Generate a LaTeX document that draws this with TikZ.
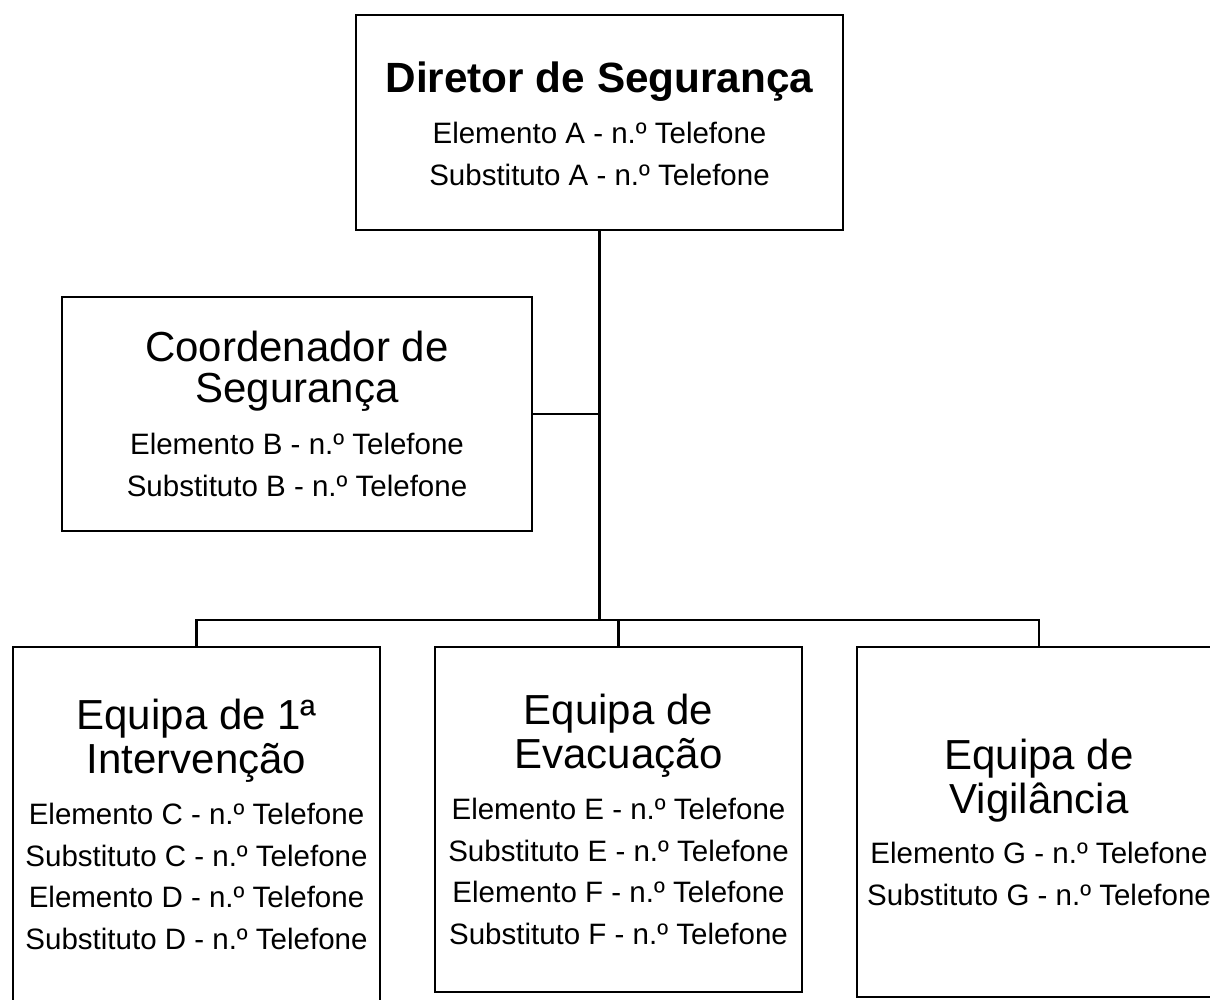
\documentclass[tikz,border=0pt]{standalone}
\usepackage{fontspec}
\setmainfont{Liberation Sans}
\begin{document}
\begin{tikzpicture}[x=1pt,y=-1pt,
  box/.style={draw=black,line width=2.2pt,rectangle,inner sep=0pt,outer sep=0pt},
  topbox/.style={box,line width=2.6pt},
  hd/.style={align=center,inner sep=0pt,anchor=base,font=\fontsize{42}{43.5}\selectfont},
  hdb/.style={hd,font=\fontsize{42.3}{43.5}\selectfont\bfseries},
  dt/.style={align=center,inner sep=0pt,anchor=base,font=\fontsize{29.5}{41.5}\selectfont},
  conn/.style={line width=2.2pt},
  mainconn/.style={line width=3pt}]
\useasboundingbox[fill=white] (0,0) rectangle (1210,999);
% boxes
\node[topbox,minimum width=487pt,minimum height=215pt] (dir) at (599.5,122.5) {};
\node[box,minimum width=470pt,minimum height=234pt] (coord) at (297,414) {};
\node[box,minimum width=367pt,minimum height=363pt] (eq1) at (196.5,828.5) {};
\node[box,minimum width=367pt,minimum height=345pt] (evac) at (618.5,819.5) {};
\node[box,minimum width=364pt,minimum height=350pt] (vig) at (1039,822) {};
% texts (anchor=base is the baseline of the last line)
\node[hdb] (dirT) at (599.5,92) {Diretor de Segurança};
\node[dt] (dirD) at (599.5,185) {Elemento A - n.º Telefone\\Substituto A - n.º Telefone};
\node[hd,font=\fontsize{42}{40.5}\selectfont] (coordT) at (297,402) {Coordenador de\\Segurança};
\node[dt] (coordD) at (297,496) {Elemento B - n.º Telefone\\Substituto B - n.º Telefone};
\node[hd] (eq1T) at (196.5,773) {Equipa de 1ª\\Intervenção};
\node[dt] (eq1D) at (196.5,949) {Elemento C - n.º Telefone\\Substituto C - n.º Telefone\\Elemento D - n.º Telefone\\Substituto D - n.º Telefone};
\node[hd] (evacT) at (618.5,768) {Equipa de\\Evacuação};
\node[dt] (evacD) at (618.5,944) {Elemento E - n.º Telefone\\Substituto E - n.º Telefone\\Elemento F - n.º Telefone\\Substituto F - n.º Telefone};
\node[hd] (vigT) at (1039,813) {Equipa de\\Vigilância};
\node[dt] (vigD) at (1039,905) {Elemento G - n.º Telefone\\Substituto G - n.º Telefone};
% connectors
\coordinate (bus) at (599.5,620);
\draw[mainconn] (dir.south) -- (bus);
\draw[conn] (coord.east) -- (coord.east -| dir.south);
\draw[conn] (eq1.north) |- (bus) -| (vig.north);
\draw[conn] (evac.north) -- (evac.north |- bus);
\end{tikzpicture}
\end{document}
